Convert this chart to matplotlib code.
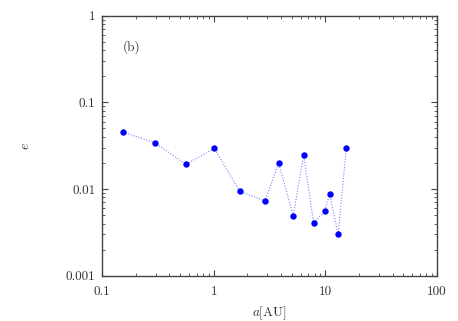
import matplotlib
import matplotlib.pyplot as plt
from matplotlib.ticker import FixedLocator, FixedFormatter, LogLocator, NullFormatter

matplotlib.use("Agg")

plt.rcParams["font.family"] = "cmr10"
plt.rcParams["mathtext.fontset"] = "cm"
plt.rcParams["axes.formatter.use_mathtext"] = True

# semi-major axis [AU] and eccentricity
a_au = [0.152, 0.294, 0.562, 1.01, 1.71, 2.87, 3.81, 5.15, 6.38, 7.84, 9.84, 10.9, 13.0, 15.4]
ecc = [0.0455, 0.0343, 0.0193, 0.0295, 0.0094, 0.0073, 0.0198, 0.00492, 0.0247,
       0.00409, 0.00553, 0.00876, 0.0030, 0.0297]

x_ticks = [0.1, 1, 10, 100]
x_labels = ["0.1", "1", "10", "100"]
y_ticks = [0.001, 0.01, 0.1, 1]
y_labels = ["0.001", "0.01", "0.1", "1"]

text_color = "#333333"

fig = plt.figure(figsize=(4.58, 3.21), dpi=100)
ax = fig.add_axes([0.2234, 0.141, 0.7306, 0.81])

ax.plot(a_au, ecc, linestyle=(0, (1, 1.5)), color="#7f7fff", linewidth=0.8, zorder=2)
ax.plot(a_au, ecc, linestyle="none", marker="o", markersize=4.6,
        color="#0000ff", markeredgewidth=0, zorder=3)

ax.set_xscale("log")
ax.set_yscale("log")
ax.set_xlim(0.1, 100)
ax.set_ylim(0.001, 1)

ax.xaxis.set_major_locator(FixedLocator(x_ticks))
ax.xaxis.set_major_formatter(FixedFormatter(x_labels))
ax.yaxis.set_major_locator(FixedLocator(y_ticks))
ax.yaxis.set_major_formatter(FixedFormatter(y_labels))
ax.xaxis.set_minor_locator(LogLocator(base=10, subs=range(2, 10)))
ax.yaxis.set_minor_locator(LogLocator(base=10, subs=range(2, 10)))
ax.xaxis.set_minor_formatter(NullFormatter())
ax.yaxis.set_minor_formatter(NullFormatter())

ax.tick_params(which="both", direction="in", top=True, right=True,
               colors="#444444", labelcolor=text_color, labelsize=9.5)
ax.tick_params(which="major", length=4, width=0.8)
ax.tick_params(axis="x", which="major", pad=7)
ax.tick_params(axis="y", which="major", pad=5)
ax.tick_params(which="minor", length=2, width=0.6)
for s in ax.spines.values():
    s.set_color("#444444")
    s.set_linewidth(1.0)

ax.set_xlabel(r"$a$[AU]", fontsize=9.5, color=text_color, labelpad=5)
ax.set_ylabel(r"$e$", fontsize=10, color=text_color, rotation=90, labelpad=24)
ax.text(0.062, 0.88, "(b)", transform=ax.transAxes, fontsize=9.5, color=text_color,
        ha="left", va="center")

fig.savefig("out.png", dpi=100)
